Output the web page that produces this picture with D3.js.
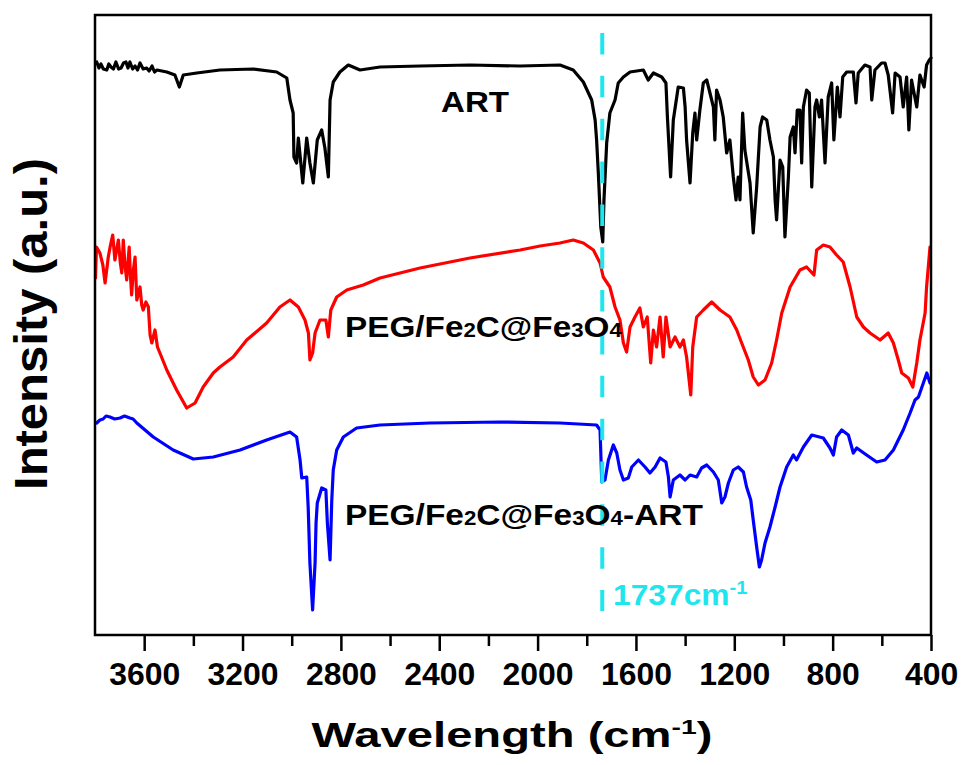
<!DOCTYPE html>
<html><head><meta charset="utf-8">
<script src="https://cdn.jsdelivr.net/npm/d3@7"></script>
<style>body{margin:0;background:#fff}svg{display:block}</style>
</head><body><svg id="c" width="962" height="765"></svg>
<script>
// Wavenumber (cm-1), intensity (a.u.)
const art = [[3793,573],[3784,567],[3776,571],[3766,566],[3752,565],[3744,571],[3735,568],[3725,566],[3715,573],[3704,566],[3694,567],[3684,572],[3674,573],[3666,567],[3658,573],[3647,566],[3637,569],[3627,565],[3617,572],[3604,566],[3590,567],[3580,564],[3568,569],[3558,563],[3548,565],[3508,563],[3475,560],[3457,548],[3441,560],[3386,562],[3292,565],[3156,566],[3061,563],[3020,557],[3007,535],[2994,522],[2991,478],[2980,472],[2973,497],[2955,452],[2939,497],[2926,472],[2912,452],[2896,495],[2878,505],[2865,487],[2851,458],[2844,535],[2831,553],[2804,563],[2770,570],[2722,565],[2641,568],[2478,569],[2275,570],[2071,569],[1909,570],[1855,565],[1814,553],[1780,535],[1766,515],[1760,495],[1753,462],[1743,408],[1735,393],[1730,435],[1719,492],[1706,522],[1685,535],[1672,552],[1651,558],[1624,563],[1570,565],[1550,555],[1529,562],[1495,558],[1478,552],[1472,518],[1459,458],[1448,515],[1428,548],[1407,547],[1400,528],[1394,495],[1380,452],[1369,502],[1360,522],[1353,495],[1340,525],[1326,552],[1312,555],[1299,542],[1285,528],[1279,495],[1272,545],[1258,535],[1245,518],[1231,482],[1218,495],[1204,458],[1193,435],[1184,458],[1177,435],[1166,522],[1157,485],[1136,452],[1123,402],[1109,448],[1095,508],[1085,518],[1068,515],[1055,495],[1041,478],[1034,435],[1028,415],[1014,475],[1003,468],[994,398],[980,458],[973,498],[960,508],[953,482],[944,525],[933,525],[926,472],[919,528],[906,545],[895,542],[885,448],[872,528],[865,535],[854,518],[845,535],[831,472],[818,538],[804,552],[795,495],[781,548],[770,518],[759,558],[743,563],[716,563],[705,532],[696,562],[669,570],[648,568],[641,535],[628,565],[601,572],[587,572],[574,560],[556,522],[546,562],[526,558],[513,528],[499,558],[490,505],[479,555],[458,528],[445,560],[428,548],[418,570],[407,575],[400,577]];

const peg = [[3798,357],[3794,388],[3780,382],[3768,370],[3759,352],[3746,378],[3737,390],[3728,400],[3719,375],[3705,395],[3697,372],[3691,362],[3685,395],[3678,370],[3671,355],[3661,388],[3656,360],[3651,340],[3644,365],[3637,378],[3630,335],[3617,348],[3610,330],[3604,325],[3593,333],[3583,328],[3576,300],[3569,292],[3556,305],[3546,288],[3536,282],[3508,265],[3468,245],[3427,227],[3393,232],[3360,248],[3319,262],[3292,268],[3238,278],[3183,295],[3102,312],[3048,328],[3007,335],[2973,328],[2946,315],[2932,302],[2926,275],[2915,282],[2905,302],[2885,315],[2861,315],[2851,298],[2841,325],[2817,338],[2776,345],[2709,350],[2641,357],[2478,367],[2275,377],[2071,385],[1990,389],[1909,392],[1855,395],[1814,392],[1773,385],[1746,372],[1733,358],[1706,348],[1685,328],[1665,315],[1651,292],[1638,283],[1624,308],[1604,318],[1584,327],[1570,308],[1554,318],[1540,272],[1529,305],[1516,288],[1502,318],[1489,278],[1478,318],[1461,288],[1441,298],[1421,288],[1407,295],[1394,278],[1377,240],[1369,288],[1353,318],[1326,325],[1292,333],[1258,325],[1218,318],[1190,305],[1170,292],[1143,275],[1123,258],[1102,250],[1075,255],[1048,272],[1028,295],[1007,322],[973,348],[933,365],[906,368],[876,360],[865,385],[838,390],[811,388],[784,380],[757,373],[729,348],[702,318],[675,308],[648,302],[607,295],[574,302],[553,292],[533,275],[519,262],[492,257],[474,248],[458,272],[445,295],[424,322],[418,348],[404,388]];

const pegArt = [[3793,212],[3780,215],[3767,216],[3755,219],[3739,218],[3720,216],[3698,217],[3680,219],[3658,217],[3645,216],[3630,212],[3563,198],[3482,185],[3400,176],[3319,178],[3210,185],[3102,195],[3007,203],[2980,198],[2966,175],[2959,157],[2939,158],[2933,128],[2926,72],[2915,25],[2905,72],[2901,112],[2896,132],[2878,147],[2861,145],[2855,112],[2844,75],[2837,135],[2831,165],[2817,185],[2790,198],[2736,207],[2641,210],[2438,212],[2153,213],[1909,212],[1760,210],[1746,205],[1739,153],[1726,155],[1712,175],[1692,190],[1678,182],[1665,165],[1651,155],[1631,157],[1617,168],[1590,175],[1563,168],[1543,162],[1522,168],[1502,177],[1478,173],[1468,158],[1461,138],[1448,155],[1421,160],[1400,155],[1380,160],[1353,158],[1333,167],[1312,170],[1285,163],[1265,155],[1251,132],[1238,138],[1224,152],[1204,165],[1184,168],[1163,163],[1150,148],[1133,135],[1123,115],[1109,88],[1098,68],[1089,75],[1075,92],[1055,108],[1034,128],[1014,148],[987,168],[960,180],[947,175],[919,188],[885,200],[838,197],[811,187],[797,180],[784,198],[763,205],[736,200],[716,182],[702,187],[662,180],[621,173],[587,175],[553,185],[513,205],[485,222],[465,235],[451,238],[417,262],[404,252]];

const xTicks = [3600,3200,2800,2400,2000,1600,1200,800,400];
const xMinorTicks = [3400,3000,2600,2200,1800,1400,1000,600];
const markerWavenumber = 1737;
const markerRange = [602, 24];
const seriesColors = ["#000000", "#ff0000", "#0000ff"];
const markerColor = "#1ee6ee";

const FONT = "Arial, 'Liberation Sans', Helvetica, sans-serif";
const svg = d3.select('#c');
const L = 95, R = 931, T = 15, B = 635;
const x = d3.scaleLinear().domain([3800, 400]).range([L, R]);
const y = d3.scaleLinear().domain([0, 620]).range([B, T]);

const line = d3.line().x(d => x(d[0])).y(d => y(d[1]));

[art, peg, pegArt].forEach((s, i) => {
  svg.append('path').datum(s).attr('d', line)
    .attr('fill', 'none').attr('stroke', seriesColors[i])
    .attr('stroke-width', 3.2).attr('stroke-linejoin', 'round').attr('stroke-linecap', 'round');
});

// marker dashed line
svg.append('line')
  .attr('x1', x(markerWavenumber)).attr('x2', x(markerWavenumber))
  .attr('y1', y(markerRange[0])).attr('y2', y(markerRange[1]))
  .attr('stroke', markerColor).attr('stroke-width', 4)
  .attr('stroke-dasharray', '21.5,21.35');

// frame
svg.append('rect').attr('x', L).attr('y', T).attr('width', R - L).attr('height', B - T)
  .attr('fill', 'none').attr('stroke', '#000').attr('stroke-width', 2.5);

// axes
const gx = svg.append('g').attr('transform', `translate(0,${B})`)
  .call(d3.axisBottom(x).tickValues(xTicks).tickSize(16).tickPadding(12).tickFormat(d3.format('d')));
gx.select('.domain').remove();
gx.selectAll('.tick line').attr('stroke', '#000').attr('stroke-width', 2.5);
gx.selectAll('.tick text').attr('font-family', FONT).attr('font-weight', 'bold')
  .attr('font-size', 31).attr('fill', '#000');
{
  const w4 = gx.select('.tick text').node().getBBox().width; // "3600"
  const s = 71 / w4;
  gx.selectAll('.tick text').attr('transform', `scale(${s},1)`);
}
const gm = svg.append('g').attr('transform', `translate(0,${B})`)
  .call(d3.axisBottom(x).tickValues(xMinorTicks).tickSize(11).tickFormat(''));
gm.select('.domain').remove();
gm.selectAll('.tick line').attr('stroke', '#000').attr('stroke-width', 2.5);

function fit(sel, width) {
  const w = sel.node().getBBox().width;
  const x0 = +sel.attr('x');
  const s = width / w;
  sel.attr('transform', `translate(${x0},0) scale(${s},1) translate(${-x0},0)`);
}

// axis titles
const xt = svg.append('text').attr('x', 512).attr('y', 747).attr('text-anchor', 'middle')
  .attr('font-family', FONT).attr('font-weight', 'bold').attr('font-size', 35).attr('fill', '#000');
xt.append('tspan').text('Wavelength (cm');
xt.append('tspan').attr('font-size', 21).attr('dy', -13).text('-1');
xt.append('tspan').attr('dy', 13).text(')');
fit(xt, 401);

const yt = svg.append('text').attr('x', 0).attr('y', 0).attr('text-anchor', 'middle')
  .attr('font-family', FONT).attr('font-weight', 'bold').attr('font-size', 46).attr('fill', '#000')
  .text('Intensity (a.u.)');
{
  const w = yt.node().getBBox().width;
  yt.attr('transform', `translate(47,324) rotate(-90) scale(${332 / w},1)`);
}

// series labels
function chem(xp, yp, parts, width, color) {
  const t = svg.append('text').attr('x', xp).attr('y', yp)
    .attr('font-family', FONT).attr('font-weight', 'bold').attr('font-size', 30).attr('fill', color);
  parts.forEach(p => {
    const ts = t.append('tspan').text(p[0]);
    if (p[1] === 'sub') ts.attr('font-size', 20);
    if (p[1] === 'sup') ts.attr('font-size', 19).attr('dy', -11);
  });
  fit(t, width);
}
chem(441, 112, [['ART']], 68, '#000');
chem(345, 337, [['PEG/Fe'], ['2', 'sub'], ['C@Fe'], ['3', 'sub'], ['O'], ['4', 'sub']], 278, '#000');
chem(345, 525, [['PEG/Fe'], ['2', 'sub'], ['C@Fe'], ['3', 'sub'], ['O'], ['4', 'sub'], ['-ART']], 358, '#000');
chem(613, 605, [['1737cm'], ['-1', 'sup']], 135, markerColor);
</script></body></html>
